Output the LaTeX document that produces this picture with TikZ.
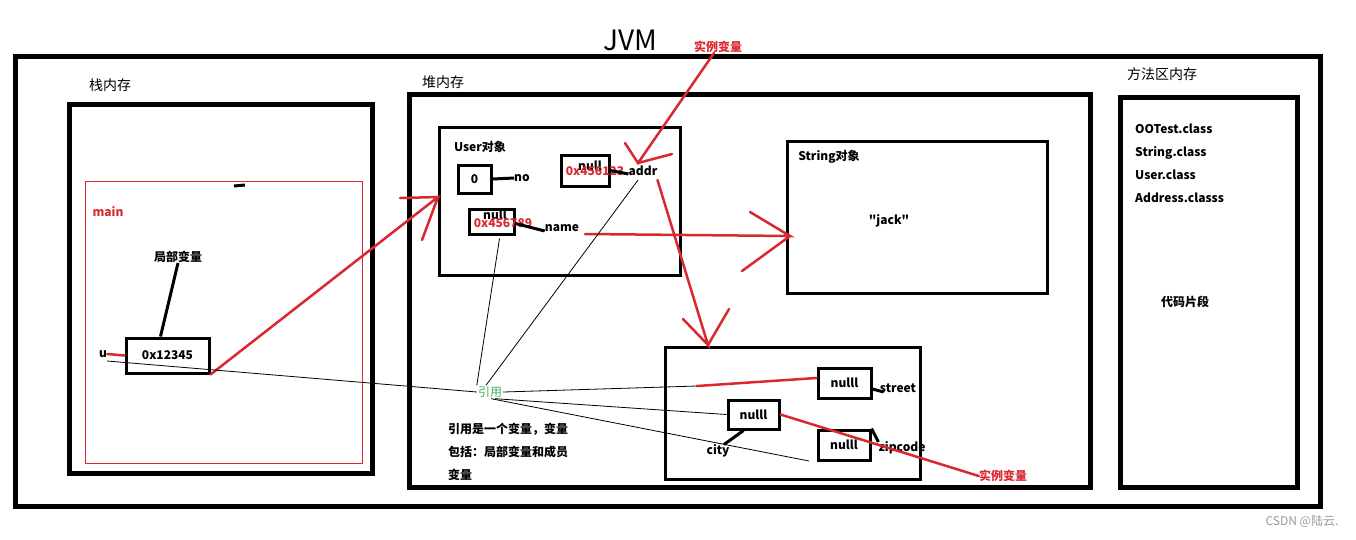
\documentclass[tikz,border=0pt]{standalone}
\usepackage{fontspec}
\setmainfont{Noto Sans CJK SC}[Ligatures=TeXOff]
\usetikzlibrary{arrows.meta}
\definecolor{RefRed}{HTML}{D9282F}
\definecolor{RefGreen}{HTML}{46AF5A}
\definecolor{MarkGray}{HTML}{9A9A9A}

\tikzset{
    areabox/.style={draw, line width=5pt, inner sep=0pt},
    objbox/.style={draw, line width=3pt, inner sep=0pt},
    cellbox/.style={draw, line width=3pt, inner sep=0pt, font=\bfseries\fontsize{12}{14}\selectfont},
    lbl/.style={inner sep=0pt, font=\bfseries\fontsize{12}{14}\selectfont},
    arealbl/.style={inner sep=0pt, font=\fontsize{14}{16}\selectfont},
    redlbl/.style={lbl, text=RefRed},
    redline/.style={RefRed, line width=2.5pt, line cap=round},
    blackline/.style={line width=3pt},
    refthin/.style={line width=0.8pt}
}

\begin{document}
\begin{tikzpicture}[x=1pt, y=-1pt]
    \useasboundingbox (0,0) rectangle (1356,539);

    % JVM
    \node[areabox, minimum width=1305, minimum height=450] (jvm) at (667.5,281) {};
    \node[inner sep=0pt, font=\fontsize{28}{30}\selectfont] (jvmlbl) at (630,40) {JVM};

    % Stack
    \node[arealbl] (stacklbl) at (110,85) {栈内存};
    \node[areabox, minimum width=303, minimum height=369] (stack) at (220.5,288.5) {};
    \node[draw=RefRed, line width=1pt, minimum width=277, minimum height=282, inner sep=0pt] (mainframe) at (223.5,322) {};
    \node[redlbl] (mainlbl) at (108,212) {main};
    \draw[blackline] (234,186) -- (245,185);
    \node[lbl] (locallbl) at (178,257) {局部变量};
    \node[cellbox, minimum width=83, minimum height=35] (ptr) at (167.5,355.5) {0x12345};
    \node[lbl] (u) at (103,354) {u};
    \draw[blackline] (locallbl.south) -- ([xshift=-7pt]ptr.north);
    \draw[redline] (u.east) -- (ptr.west);

    % Heap
    \node[arealbl] (heaplbl) at (443,82) {堆内存};
    \node[areabox, minimum width=681, minimum height=393] (heap) at (749.5,290.5) {};

    % User object
    \node[objbox, minimum width=241, minimum height=148] (userobj) at (559.5,201) {};
    \node[lbl] (userlbl) at (480,147) {User对象};
    \node[cellbox, minimum width=33, minimum height=28] (nobox) at (474.5,179) {0};
    \node[lbl] (nolbl) at (522,178) {no};
    \node[cellbox, minimum width=48, minimum height=31] (addrbox) at (585,170.5) {};
    \node[lbl] at (590,166) {null};
    \node[redlbl] at (595,171) {0x456123};
    \node[lbl] (addrlbl) at (643,171) {addr};
    \node[cellbox, minimum width=45, minimum height=25] (namebox) at (491.5,221.5) {};
    \node[lbl] at (495,215) {null};
    \node[redlbl] at (503,223) {0x456789};
    \node[lbl] (namelbl) at (562,228) {name};
    \draw[blackline] (nobox.east) -- (nolbl.west);
    \draw[blackline] (addrbox.east) -- ([yshift=-3pt]addrlbl.west);
    \draw[blackline] ([yshift=-2pt]namebox.east) -- ([yshift=-3pt]namelbl.west);

    % String object
    \node[objbox, minimum width=260, minimum height=152] (stringobj) at (917,217) {};
    \node[lbl] (stringlbl) at (829,157) {String对象};
    \node[lbl] (jack) at (889,221) {"jack"};

    % Address object
    \node[objbox, minimum width=255, minimum height=132] (addressobj) at (792.5,413) {};
    \node[cellbox, minimum width=53, minimum height=30] (streetbox) at (844.5,383) {nulll};
    \node[cellbox, minimum width=51, minimum height=29] (citybox) at (753.5,414.5) {nulll};
    \node[cellbox, minimum width=52, minimum height=30] (zipbox) at (844,445) {nulll};
    \node[lbl] (streetlbl) at (898,388) {street};
    \node[lbl] (citylbl) at (718,451) {city};
    \node[lbl] (ziplbl) at (902,448) {zipcode};
    \draw[blackline] ([yshift=-6pt]streetbox.east) -- ([xshift=4pt,yshift=-4pt]streetlbl.west);
    \draw[blackline] ([xshift=-10pt]citybox.south) -- ([xshift=6pt]citylbl.north);
    \draw[blackline] (zipbox.north east) -- ([yshift=6pt]ziplbl.west);

    % Method area
    \node[arealbl] (methodlbl) at (1162,74) {方法区内存};
    \node[areabox, minimum width=177, minimum height=390] (methodarea) at (1208.5,292) {};
    \node[lbl, anchor=west, align=left, font=\bfseries\fontsize{12}{23}\selectfont] (classes) at (1135,163)
        {OOTest.class\\String.class\\User.class\\Address.classs};
    \node[lbl] (codelbl) at (1185,302) {代码片段};

    % Instance variable labels
    \node[redlbl] (instvartop) at (718,47) {实例变量};
    \node[redlbl] (instvarbot) at (1003,476) {实例变量};

    % Red pointers, hand drawn heads
    \coordinate (usertip) at (438,197);
    \coordinate (addrtip) at (638,163);
    \coordinate (addresstip) at (708,345);
    \coordinate (stringtip) at (790,236);
    \coordinate (namefrom) at (585,234);
    \coordinate (streetfrom) at (697,386);
    \draw[redline] (ptr.south east) -- (usertip) -- ++(-38,1) (usertip) -- ++(-16,43);
    \draw[redline] ([xshift=-4pt]instvartop.south) -- (addrtip) -- ++(-13,-20) (addrtip) -- ++(34,-9);
    \draw[redline] ([yshift=-4pt]addrlbl.south east) -- (addresstip) -- ++(-25,-26) (addresstip) -- ++(21,-36);
    \draw[redline] (namefrom) -- (stringtip) -- ++(-40,-24) (stringtip) -- ++(-48,35);
    \draw[redline] (streetfrom) -- ([yshift=5pt]streetbox.west);
    \draw[redline] (citybox.east) -- (instvarbot.west);

    % References
    \node[inner sep=1pt, text=RefGreen, font=\fontsize{12}{14}\selectfont] (yinyong) at (490,392) {引用};
    \coordinate (zipend) at (809,461);
    \draw[refthin] ([yshift=-7pt]u.east) -- (yinyong.west);
    \draw[refthin] ([xshift=8pt,yshift=-3pt]namebox.south) -- (yinyong.north west);
    \draw[refthin] ([xshift=-5pt,yshift=-4pt]addrlbl.south) -- ([xshift=-4pt]yinyong.north);
    \draw[refthin] (yinyong.east) -- (streetfrom);
    \draw[refthin] ([xshift=-8pt]yinyong.south east) -- (citybox.west);
    \draw[refthin] ([xshift=-12pt]yinyong.south east) -- (zipend);
    \node[lbl, anchor=west, align=left, font=\bfseries\fontsize{12}{23}\selectfont] (note) at (448,452)
        {引用是一个变量，变量\\包括：局部变量和成员\\变量};

    % Watermark
    \node[inner sep=0pt, text=MarkGray, font=\fontsize{12}{14}\selectfont] (mark) at (1302,522) {CSDN @陆云.};
\end{tikzpicture}
\end{document}
